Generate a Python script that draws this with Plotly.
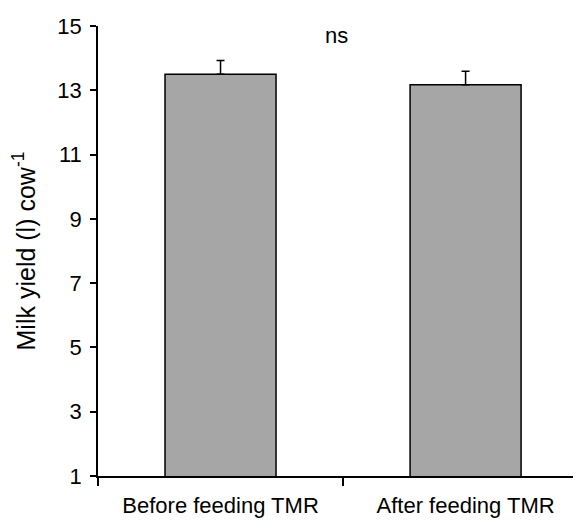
import plotly.graph_objects as go

categories = ["Before feeding TMR", "After feeding TMR"]
milk_yield = [13.5, 13.17]
se_upper = [0.43, 0.42]
y_ticks = [1, 3, 5, 7, 9, 11, 13, 15]
sig_label = "ns"

fig = go.Figure()
fig.add_trace(go.Bar(
    x=categories,
    y=milk_yield,
    base=0,
    width=0.453,
    marker=dict(color="#a6a6a6", line=dict(color="black", width=1.5)),
    error_y=dict(type="data", symmetric=False, array=se_upper,
                 arrayminus=[0, 0], color="black", thickness=1.5, width=4),
))

font = dict(family="Liberation Sans, Arial, sans-serif", color="black")

fig.add_annotation(x=0.475, y=14.72, text=sig_label, showarrow=False,
                   xref="x", yref="y", font=dict(size=22, **font))

# the page body adds an 8px offset, so the figure is sized to fit the window
fig.update_layout(
    width=573, height=514,
    margin=dict(l=90, r=0, t=18, b=46),
    paper_bgcolor="white", plot_bgcolor="white",
    showlegend=False,
    font=font,
    xaxis=dict(
        type="category",
        range=[-0.5, 1.471],
        showline=True, linecolor="black", linewidth=1.5,
        ticks="outside", tickson="boundaries", ticklen=8, tickwidth=1.5, tickcolor="black",
        tickfont=dict(size=22, **font),
        ticklabelstandoff=9,
        automargin=False,
        showgrid=False, zeroline=False,
    ),
    yaxis=dict(
        range=[1, 15],
        tickvals=y_ticks,
        showline=True, linecolor="black", linewidth=1.5,
        ticks="outside", ticklen=6, tickwidth=1.5, tickcolor="black",
        tickfont=dict(size=22, **font),
        ticklabelstandoff=4,
        automargin=False,
        showgrid=False, zeroline=False,
        title=dict(text="Milk yield (l) cow<sup>-1</sup>", font=dict(size=25, **font), standoff=16),
    ),
)

fig.write_html("out.html")
